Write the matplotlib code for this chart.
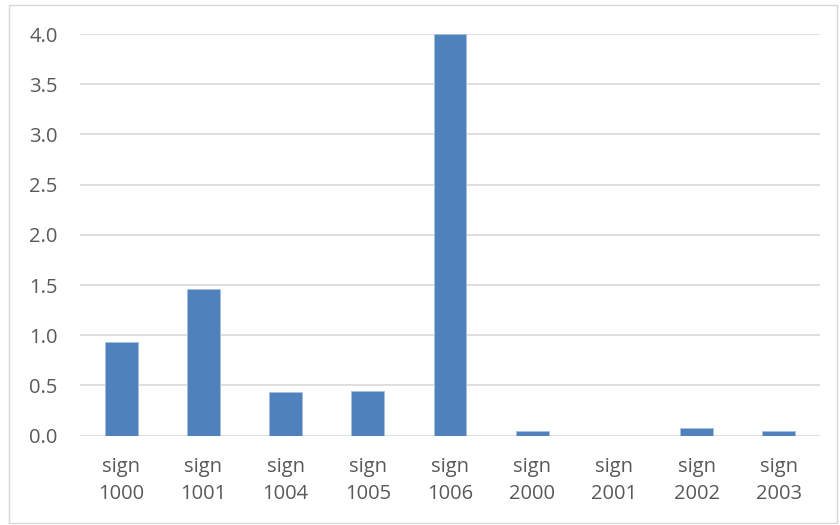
import matplotlib
matplotlib.use("Agg")
import matplotlib.pyplot as plt
from matplotlib.patches import Rectangle

categories = ["sign\n1000", "sign\n1001", "sign\n1004", "sign\n1005", "sign\n1006",
              "sign\n2000", "sign\n2001", "sign\n2002", "sign\n2003"]
values = [0.935, 1.46, 0.435, 0.445, 4.0, 0.047, 0.0, 0.08, 0.047]
yticks = [0.0, 0.5, 1.0, 1.5, 2.0, 2.5, 3.0, 3.5, 4.0]

plt.rcParams['font.family'] = ['Open Sans', 'DejaVu Sans']

W, H = 840, 525
fig = plt.figure(figsize=(W / 100, H / 100), dpi=100)
fig.patch.set_facecolor("white")

# outer chart frame
fig.patches.append(Rectangle((9 / W, 2 / H), 828 / W, 518 / H, transform=fig.transFigure,
                             fill=False, edgecolor="#d9d9d9", linewidth=1.0))

ax = fig.add_axes([80 / W, (H - 435.7) / H, 740 / W, (435.7 - 34) / H])
x = list(range(len(categories)))
ax.bar(x, values, width=0.4, color="#4f81bd", edgecolor="#a6c0e0", linewidth=0.6, zorder=3)

ax.set_xlim(-0.5, len(categories) - 0.5)
ax.set_ylim(0, 4.0)
ax.set_yticks(yticks)
ax.set_yticklabels([f"{v:.1f}" for v in yticks])
ax.set_xticks(x)
ax.set_xticklabels(categories, linespacing=1.5)

ax.grid(axis="y", color="#d9d9d9", linewidth=1.2, zorder=0)
for s in ax.spines.values():
    s.set_visible(False)
ax.tick_params(axis="both", length=0, labelsize=14.5, colors="#595959")
ax.tick_params(axis="y", pad=16)
ax.tick_params(axis="x", pad=15)

fig.savefig("out.png", dpi=100, facecolor="white")
